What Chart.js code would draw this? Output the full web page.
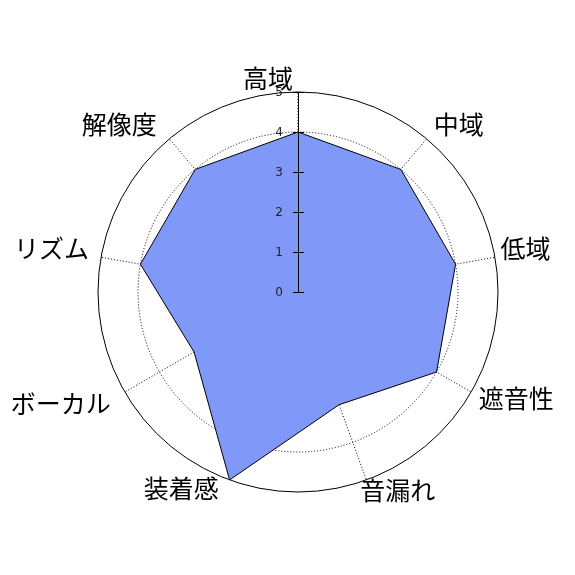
<!DOCTYPE html>
<html>
<head>
<meta charset="utf-8">
<script src="https://cdn.jsdelivr.net/npm/chart.js@4/dist/chart.umd.min.js"></script>
<style>
  html, body { margin: 0; padding: 0; background: #fff; }
  #wrap { width: 575px; height: 575px; }
</style>
</head>
<body>
<div id="wrap"><canvas id="radar" width="575" height="575"></canvas></div>
<script>
/* ---------- データ ---------- */
const axisLabels = ['高域', '中域', '低域', '遮音性', '音漏れ', '装着感', 'ボーカル', 'リズム', '解像度'];
const scores = [4, 4, 4, 4, 3, 5, 3, 4, 4];
const tickValues = [0, 1, 2, 3, 4, 5];

// ラベルの微調整 (px)
const labelNudge = [[-30, 16], [13, 9], [1, -4], [19, -9], [21, -18], [-38, -20], [-38, -4], [-20, -4], [-31, 9]];

/* ---------- 軸・ラベル描画プラグイン ---------- */
const axisPlugin = {
    id: 'axisPlugin',
    afterDatasetsDraw(chart) {
        const scale = chart.scales.r;
        const ctx = chart.ctx;
        const cx = scale.xCenter, cy = scale.yCenter;
        ctx.save();
        // 縦の目盛り軸
        ctx.strokeStyle = '#000';
        ctx.lineWidth = 1;
        ctx.beginPath();
        ctx.moveTo(cx + 0.5, cy);
        ctx.lineTo(cx + 0.5, cy - scale.getDistanceFromCenterForValue(tickValues[tickValues.length - 1]));
        ctx.stroke();
        ctx.font = '12px "DejaVu Sans", sans-serif';
        ctx.fillStyle = '#222';
        ctx.textAlign = 'right';
        ctx.textBaseline = 'middle';
        tickValues.forEach(v => {
            const y = Math.round(cy - scale.getDistanceFromCenterForValue(v)) + 0.5;
            ctx.beginPath();
            ctx.moveTo(cx - 5, y);
            ctx.lineTo(cx + 6, y);
            ctx.stroke();
            ctx.fillText(String(v), cx - 15, y);
        });
        // 項目ラベル
        ctx.font = '25px "Noto Sans CJK JP", sans-serif';
        ctx.fillStyle = '#000';
        ctx.textAlign = 'center';
        axisLabels.forEach((lab, i) => {
            const p = scale.getPointPosition(i, scale.drawingArea * 1.15);
            ctx.fillText(lab, p.x + labelNudge[i][0], p.y + labelNudge[i][1]);
        });
        ctx.restore();
    }
};

/* ---------- チャート ---------- */
new Chart(document.getElementById('radar'), {
    type: 'radar',
    data: {
        labels: axisLabels,
        datasets: [{
            data: scores,
            backgroundColor: '#8099F8',
            borderColor: '#000',
            borderWidth: 1,
            pointRadius: 0,
            tension: 0
        }]
    },
    options: {
        responsive: false,
        animation: false,
        devicePixelRatio: 1,
        layout: { padding: { left: 98, right: 77, top: 92, bottom: 83 } },
        plugins: { legend: { display: false }, tooltip: { enabled: false } },
        scales: {
            r: {
                min: 0, max: 5,
                ticks: { display: false, stepSize: 1 },
                pointLabels: { display: false },
                grid: {
                    circular: true,
                    lineWidth: 1,
                    color: c => (c.tick && c.tick.value >= 4) ? '#000' : 'rgba(0,0,0,0)'
                },
                border: { dash: c => (c.tick && c.tick.value === 4) ? [1, 2] : [] },
                angleLines: { color: '#000', lineWidth: 1, borderDash: [1, 2] }
            }
        }
    },
    plugins: [axisPlugin]
});
</script>
</body>
</html>
